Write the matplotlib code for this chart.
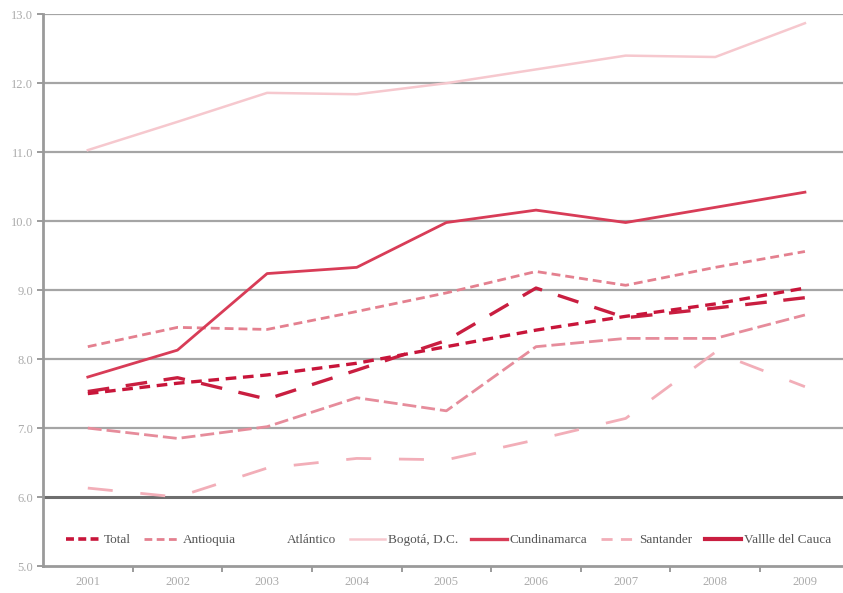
import matplotlib
matplotlib.use("Agg")
import matplotlib.pyplot as plt
from matplotlib.lines import Line2D

years = ['2001', '2002', '2003', '2004', '2005', '2006', '2007', '2008', '2009']

total = [7.50, 7.65, 7.77, 7.94, 8.18, 8.42, 8.62, 8.80, 9.03]
antioquia = [8.18, 8.46, 8.43, 8.69, 8.96, 9.27, 9.07, 9.33, 9.56]
atlantico = [7.00, 6.85, 7.02, 7.44, 7.25, 8.18, 8.30, 8.30, 8.64]
bogota = [11.03, 11.44, 11.86, 11.84, 12.00, 12.20, 12.40, 12.38, 12.87]
cundinamarca = [7.74, 8.13, 9.24, 9.33, 9.98, 10.16, 9.98, 10.20, 10.42]
santander = [6.13, 6.00, 6.42, 6.56, 6.54, 6.83, 7.14, 8.10, 7.60]
valle = [7.53, 7.73, 7.42, 7.84, 8.27, 9.03, 8.60, 8.74, 8.89]

yticks = [5.0, 6.0, 7.0, 8.0, 9.0, 10.0, 11.0, 12.0, 13.0]

c_total = '#c8153a'
c_valle = '#c91e40'
c_cund = '#d83c57'
c_ant = '#e4808f'
c_atl = '#e68c9b'
c_sant = '#f2aeb8'
c_bog = '#f6c8ce'

fig = plt.figure(figsize=(8.43, 5.93), dpi=100)
ax = fig.add_axes([0.051, 0.0455, 0.957, 0.9305])

x = list(range(len(years)))

# horizontal grid, the 6.0 line is drawn heavier
for v in yticks[1:]:
    if v == 6.0:
        ax.axhline(v, color='#6e6e6e', lw=2.2, zorder=1)
    else:
        ax.axhline(v, color='#a5a5a5', lw=1.6, zorder=1)

ax.plot(x, santander, color=c_sant, lw=2.0, dashes=(9, 10), zorder=3)
ax.plot(x, bogota, color=c_bog, lw=1.8, zorder=3)
ax.plot(x, atlantico, color=c_atl, lw=2.0, dashes=(5, 1.8), zorder=3)
ax.plot(x, antioquia, color=c_ant, lw=2.0, dashes=(3.2, 1.8), zorder=3)
ax.plot(x, cundinamarca, color=c_cund, lw=2.0, zorder=4)
ax.plot(x, valle, color=c_valle, lw=2.4, dashes=(6.5, 5), zorder=4)
ax.plot(x, total, color=c_total, lw=2.4, dashes=(3.2, 2), zorder=5)

ax.set_xlim(-0.5, 8.5)
ax.set_ylim(5.0, 13.0)

# ticks between categories, labels at the category centres
ax.set_xticks([i + 0.5 for i in range(8)])
ax.set_xticklabels([])
ax.set_xticks(x, minor=True)
ax.set_xticklabels(years, minor=True)
ax.tick_params(axis='x', which='major', length=4, width=1.2, color='#8a8a8a', direction='out')
ax.tick_params(axis='x', which='minor', length=0, pad=7, labelsize=9, labelcolor='#ababab')

ax.set_yticks(yticks)
ax.set_yticklabels(['%.1f' % v for v in yticks])
ax.tick_params(axis='y', length=4, width=1.2, color='#8a8a8a', labelsize=9,
               labelcolor='#ababab', pad=3)

for lab in ax.get_xticklabels(minor=True) + ax.get_yticklabels():
    lab.set_family('Liberation Serif')

for side in ['top', 'right']:
    ax.spines[side].set_visible(False)
ax.spines['left'].set_color('#9a9a9a')
ax.spines['left'].set_linewidth(2.0)
ax.spines['bottom'].set_color('#9a9a9a')
ax.spines['bottom'].set_linewidth(2.0)

handles = [
    Line2D([], [], color=c_total, lw=2.6, dashes=(2.2, 1.2)),
    Line2D([], [], color=c_ant, lw=2.0, dashes=(2.8, 1.6)),
    Line2D([], [], linestyle='none'),
    Line2D([], [], color=c_bog, lw=1.8),
    Line2D([], [], color=c_cund, lw=2.4),
    Line2D([], [], color=c_sant, lw=2.0, dashes=(4, 3)),
    Line2D([], [], color=c_valle, lw=3.0),
]
names = ['Total', 'Antioquia', 'Atlántico', 'Bogotá, D.C.', 'Cundinamarca',
         'Santander', 'Vallle del Cauca']
leg = ax.legend(handles, names, ncol=7, loc='center left', bbox_to_anchor=(0.022, 0.047),
                frameon=False, fontsize=9.5, handlelength=2.7, handletextpad=0.2,
                columnspacing=1.0, borderaxespad=0, labelcolor='#555555')
for t in leg.get_texts():
    t.set_family('Liberation Serif')

fig.savefig('out.png', dpi=100)
